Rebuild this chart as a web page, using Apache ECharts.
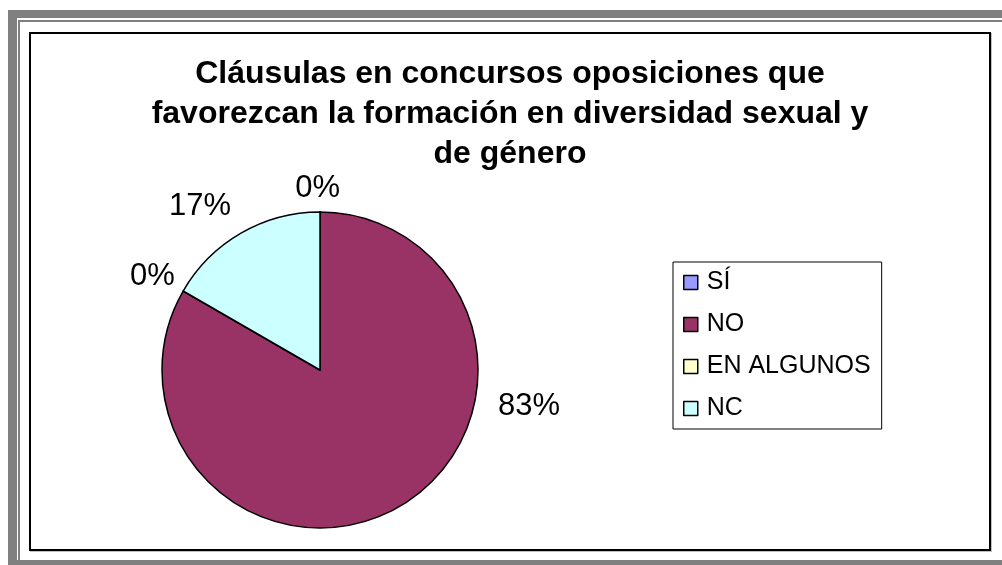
<!DOCTYPE html>
<html>
<head>
<meta charset="utf-8">
<script src="https://cdn.jsdelivr.net/npm/echarts@6/dist/echarts.min.js"></script>
<style>
  html, body { margin: 0; padding: 0; width: 1002px; height: 565px; overflow: hidden; background: #fff; }
  .frame-outer { position: absolute; left: 8px; top: 10px; width: 1010px; height: 570px; background: #808080; }
  .frame-gap { position: absolute; left: 17px; top: 18px; width: 1000px; height: 542px; background: #fff; }
  .frame-line { position: absolute; left: 18px; top: 20px; width: 1000px; height: 540px; background: #808080; }
  .frame-inner { position: absolute; left: 20px; top: 22px; width: 1000px; height: 538px; background: #fff; }
  .chart-box { position: absolute; left: 29px; top: 32px; width: 958px; height: 515px; border: 2px solid #000; box-shadow: 1px 1px 0 #c0c0c0; }
  #chart { position: absolute; left: 31px; top: 34px; width: 958px; height: 515px; }
</style>
</head>
<body>
<div class="frame-outer"></div>
<div class="frame-gap"></div>
<div class="frame-line"></div>
<div class="frame-inner"></div>
<div class="chart-box"></div>
<div id="chart"></div>
<script>
// datos
const categorias = ["SÍ", "NO", "EN ALGUNOS", "NC"];
const valores = [0, 5, 0, 1];
const colores = ["#9999FF", "#993366", "#FFFFCC", "#CCFFFF"];

// ajuste fino de las etiquetas (estilo, no datos)
const labelShift = [
  [25, -4],
  [84, -118],
  [14, -5],
  [5, -9],
];

const chart = echarts.init(document.getElementById("chart"));

chart.setOption({
  backgroundColor: "transparent",
  animation: false,
  title: {
    text: "Cláusulas en concursos oposiciones que\nfavorezcan la formación en diversidad sexual y\nde género",
    left: "center",
    top: 20,
    padding: 0,
    textStyle: {
      fontFamily: "Liberation Sans",
      fontSize: 32,
      fontWeight: "bold",
      color: "#000",
      lineHeight: 40,
    },
  },
  legend: {
    orient: "vertical",
    left: 642,
    top: 228,
    padding: [8, 11, 8, 10],
    borderColor: "#000",
    borderWidth: 1,
    itemWidth: 14,
    itemHeight: 14,
    itemGap: 17,
    icon: "rect",
    data: categorias,
    itemStyle: { borderColor: "#000", borderWidth: 1.5 },
    textStyle: {
      fontFamily: "Liberation Sans",
      fontSize: 25,
      color: "#000",
      padding: [0, 0, 0, 4],
    },
  },
  series: [
    {
      type: "pie",
      center: [289, 336],
      radius: 158,
      startAngle: 90,
      clockwise: true,
      avoidLabelOverlap: false,
      percentPrecision: 0,
      itemStyle: { borderColor: "#000", borderWidth: 1.5 },
      label: {
        show: true,
        position: "outside",
        formatter: "{d}%",
        fontFamily: "Liberation Sans",
        fontSize: 31,
        color: "#000",
      },
      labelLine: { show: false, length: 20, length2: 0 },
      labelLayout: (p) => ({ dx: labelShift[p.dataIndex][0], dy: labelShift[p.dataIndex][1] }),
      emphasis: { disabled: true },
      data: categorias.map((c, i) => ({
        name: c,
        value: valores[i],
        itemStyle: { color: colores[i] },
      })),
    },
  ],
});
</script>
</body>
</html>
